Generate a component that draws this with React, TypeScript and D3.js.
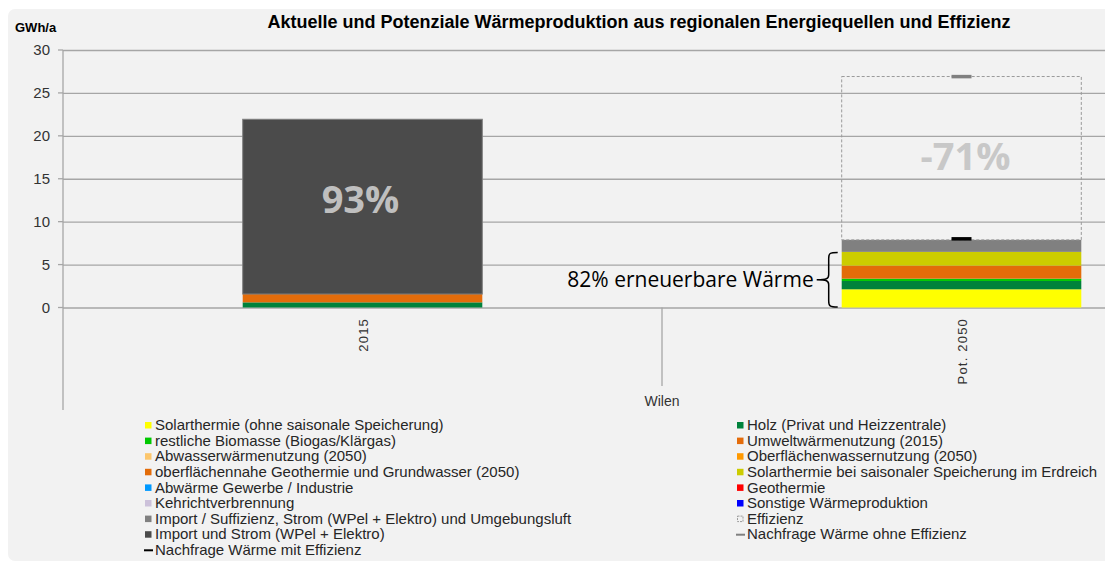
import { useEffect, useRef } from "react";
import * as d3 from "d3";

// categories and tick labels
const categories = ["2015", "Pot. 2050"];
const groupLabel = "Wilen";
const yTicks = [0, 5, 10, 15, 20, 25, 30];

// stacked series (legend order, read row by row)
const seriesNames = [
  "Solarthermie (ohne saisonale Speicherung)",
  "Holz (Privat und Heizzentrale)",
  "restliche Biomasse (Biogas/Klärgas)",
  "Umweltwärmenutzung (2015)",
  "Abwasserwärmenutzung (2050)",
  "Oberflächenwassernutzung (2050)",
  "oberflächennahe Geothermie und Grundwasser (2050)",
  "Solarthermie bei saisonaler Speicherung im Erdreich",
  "Abwärme Gewerbe / Industrie",
  "Geothermie",
  "Kehrichtverbrennung",
  "Sonstige Wärmeproduktion",
  "Import / Suffizienz, Strom (WPel + Elektro) und Umgebungsluft",
  "Effizienz",
  "Import und Strom (WPel + Elektro)",
];
const seriesColors = [
  "#ffff00", "#00823b", "#00c800", "#e46c0a", "#fcc66c", "#ff9900", "#e36c09",
  "#cccc00", "#0099ff", "#ff0000", "#ccc1da", "#0000ff", "#808080", "none", "#4b4b4b",
];
const values2015 = [0, 0.6, 0, 0.97, 0, 0, 0, 0, 0, 0, 0, 0, 0, 0, 20.36];
const values2050 = [2.12, 0.97, 0.27, 0, 0, 0, 1.52, 1.6, 0, 0, 0, 0, 1.4, 19.03, 0];

// demand markers
const demandWithoutEff = [null, 26.9];
const demandWithEff = [null, 8.0];
const demandNames = ["Nachfrage Wärme ohne Effizienz", "Nachfrage Wärme mit Effizienz"];

// annotations
const shareLabels = ["93%", "-71%"];
const renewableLabel = "82% erneuerbare Wärme";
const title = "Aktuelle und Potenziale Wärmeproduktion aus regionalen Energiequellen und Effizienz";

export default function App() {
  const ref = useRef<HTMLDivElement>(null);

  useEffect(() => {
    if (!ref.current) return;
    const W = 1105, H = 562;
    const left = 63, zeroY = 307.5, topY = 50;

    const svg = d3.select(ref.current).html("")
      .append("svg")
      .attr("width", W).attr("height", H)
      .style("position", "absolute").style("left", 0).style("top", 0)
      .style("font-family", "'Liberation Sans', Arial, sans-serif");

    // panel
    svg.append("rect").attr("x", 8).attr("y", 9).attr("width", W + 10).attr("height", 552)
      .attr("rx", 7).attr("fill", "#f2f2f2");

    svg.append("text").attr("x", 639).attr("y", 28).attr("text-anchor", "middle")
      .style("font-size", "18px").style("font-weight", "bold").attr("fill", "#000").text(title);
    svg.append("text").attr("x", 15).attr("y", 32)
      .style("font-size", "13px").style("font-weight", "bold").attr("fill", "#000").text("GWh/a");

    const y = d3.scaleLinear().domain([0, 30]).range([zeroY, topY]);
    const x = d3.scaleBand().domain(categories).range([left, left + 1198]).padding(0);
    const barW = x.bandwidth() * 0.4;

    // grid + axis
    const grid = svg.append("g")
      .attr("transform", `translate(${left},0)`)
      .call(d3.axisLeft(y).tickValues(yTicks).tickSize(-(W - left)).tickFormat(() => ""));
    grid.select(".domain").remove();
    grid.selectAll("line").attr("stroke", "#a6a6a6").attr("stroke-width", 1.3);

    svg.append("g").selectAll("line").data(yTicks).join("line")
      .attr("x1", left - 5).attr("x2", left).attr("y1", d => y(d)).attr("y2", d => y(d))
      .attr("stroke", "#a6a6a6").attr("stroke-width", 1.3);
    svg.append("g").selectAll("text").data(yTicks).join("text")
      .attr("x", 50).attr("y", d => y(d)).attr("dy", "0.35em").attr("text-anchor", "end")
      .style("font-size", "15px").attr("fill", "#333").text(d => d);

    svg.append("line").attr("x1", left).attr("x2", left).attr("y1", topY).attr("y2", 410)
      .attr("stroke", "#a6a6a6").attr("stroke-width", 1.3);
    svg.append("line").attr("x1", x(categories[1])!).attr("x2", x(categories[1])!)
      .attr("y1", zeroY).attr("y2", 386).attr("stroke", "#a6a6a6").attr("stroke-width", 1.3);

    // stacked bars
    const table = categories.map((c, i) => {
      const row: Record<string, any> = { cat: c };
      seriesNames.forEach((n, j) => { row[n] = (i === 0 ? values2015 : values2050)[j]; });
      return row;
    });
    const stacked = d3.stack<any>().keys(seriesNames)(table);

    stacked.forEach((layer, j) => {
      const color = seriesColors[j];
      const isEff = seriesNames[j] === "Effizienz";
      svg.append("g").selectAll("rect").data(layer.filter(d => d[1] - d[0] > 0)).join("rect")
        .attr("x", d => x(d.data.cat)! + (x.bandwidth() - barW) / 2)
        .attr("width", barW)
        .attr("y", d => y(d[1]))
        .attr("height", d => y(d[0]) - y(d[1]))
        .attr("fill", isEff ? "none" : color)
        .attr("stroke", isEff ? "#9a9a9a" : j === seriesNames.length - 1 ? "#7f7f7f" : "none")
        .attr("stroke-dasharray", isEff ? "3,2" : null)
        .attr("stroke-width", 1);
    });

    // demand markers
    const markers = [
      { vals: demandWithoutEff, color: "#808080" },
      { vals: demandWithEff, color: "#000" },
    ];
    markers.forEach(m => {
      m.vals.forEach((v, i) => {
        if (v == null) return;
        const cx = x(categories[i])! + x.bandwidth() / 2;
        svg.append("line").attr("x1", cx - 10).attr("x2", cx + 10)
          .attr("y1", y(v)).attr("y2", y(v)).attr("stroke", m.color).attr("stroke-width", 3.5);
      });
    });

    // share labels
    const shareY = [12.55, 17.6];
    shareLabels.forEach((t, i) => {
      svg.append("text").attr("x", x(categories[i])! + x.bandwidth() / 2 + 6 * i - 2)
        .attr("y", y(shareY[i])).attr("dy", "0.35em").attr("text-anchor", "middle")
        .style("font-family", "'Open Sans', sans-serif").style("font-size", "38px").style("font-weight", "bold")
        .attr("fill", i === 0 ? "#bfbfbf" : "#c8c8c8").text(t);
    });

    // renewable brace
    const b0 = x(categories[1])! + (x.bandwidth() - barW) / 2 - 4;
    const yt = y(6.48) + 0.5, yb = y(0) - 0.5, ym = (yt + yb) / 2;
    svg.append("path")
      .attr("d", `M${b0},${yt} C${b0 - 8},${yt} ${b0 - 9},${yt + 1} ${b0 - 9},${yt + 6} L${b0 - 9},${ym - 5} C${b0 - 9},${ym - 1} ${b0 - 11},${ym} ${b0 - 21},${ym} M${b0 - 21},${ym} C${b0 - 11},${ym} ${b0 - 9},${ym + 1} ${b0 - 9},${ym + 5} L${b0 - 9},${yb - 6} C${b0 - 9},${yb - 1} ${b0 - 8},${yb} ${b0},${yb}`)
      .attr("fill", "none").attr("stroke", "#000").attr("stroke-width", 1.5);
    svg.append("text").attr("x", b0 - 24).attr("y", ym).attr("dy", "0.35em").attr("text-anchor", "end")
      .style("font-family", "'Open Sans', sans-serif").style("font-size", "21px").attr("fill", "#000")
      .text(renewableLabel);

    // category labels
    categories.forEach(c => {
      const cx = x(c)! + x.bandwidth() / 2;
      svg.append("text").attr("transform", `translate(${cx + 1},318) rotate(-90)`)
        .attr("text-anchor", "end").attr("dominant-baseline", "central")
        .style("font-size", "13px").style("letter-spacing", "1.2px").attr("fill", "#333").text(c);
    });
    svg.append("text").attr("x", x(categories[1])!).attr("y", 406).attr("text-anchor", "middle")
      .style("font-size", "14px").attr("fill", "#333").text(groupLabel);

    // legend
    const legendItems = seriesNames.map((n, i) => ({ name: n, color: seriesColors[i], kind: n === "Effizienz" ? "dash" : "box" }));
    const ordered = [
      ...legendItems,
      { name: demandNames[0], color: "#808080", kind: "line" },
      { name: demandNames[1], color: "#000", kind: "line" },
    ];
    const lg = svg.append("g").style("font-size", "15px");
    ordered.forEach((d, i) => {
      const col = i % 2, row = Math.floor(i / 2);
      const lx = col === 0 ? 145 : 737;
      const ly = 425 + row * 15.6;
      if (d.kind === "box") {
        lg.append("rect").attr("x", lx).attr("y", ly - 3).attr("width", 6.5).attr("height", 6.5).attr("fill", d.color);
      } else if (d.kind === "dash") {
        lg.append("rect").attr("x", lx + 0.5).attr("y", ly - 2.5).attr("width", 5.5).attr("height", 5.5)
          .attr("fill", "none").attr("stroke", "#9a9a9a").attr("stroke-dasharray", "2,1");
      } else {
        lg.append("line").attr("x1", lx - 1).attr("x2", lx + 8).attr("y1", ly + 0.5).attr("y2", ly + 0.5)
          .attr("stroke", d.color).attr("stroke-width", 2);
      }
      lg.append("text").attr("x", lx + 10).attr("y", ly).attr("dy", "0.35em")
        .attr("fill", "#262626").text(d.name);
    });
  }, []);

  return <div ref={ref}></div>;
}
